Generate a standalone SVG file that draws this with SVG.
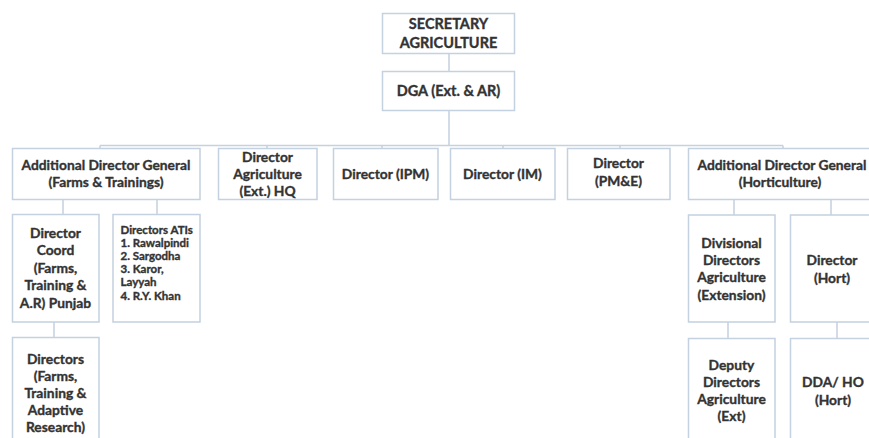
<svg xmlns="http://www.w3.org/2000/svg" width="869" height="438" viewBox="0 0 869 438">
  <style>
    .box { fill: #ffffff; stroke: #c3d1e0; stroke-width: 1.5; }
    .link { fill: none; stroke: #c3d1e0; stroke-width: 1.5; }
    text { font-family: Lato, "Open Sans", "Liberation Sans", sans-serif; font-weight: 700; font-size: 13.8px; fill: #333333; stroke: #333333; stroke-width: 0.35px; text-anchor: middle; }
    .big { font-size: 14.5px; }
    .list { font-size: 11.5px; text-anchor: start; }
  </style>
  <rect width="869" height="438" fill="#ffffff"/>

  <!-- connectors -->
  <g id="connectors">
    <path class="link" d="M449 53.5 V71.5 M449 110.5 V145.5"/>
    <path class="link" d="M100 145.5 H783 M100 145.5 V148.5 M267 145.5 V148.5 M382 145.5 V148.5 M503 145.5 V148.5 M620 145.5 V148.5 M783 145.5 V148.5"/>
    <path class="link" d="M63 199.5 V214.5 M157 199.5 V214.5 M54 322 V337.5"/>
    <path class="link" d="M734 199.5 V215 M831 199.5 V215 M728 322 V338.5 M837 322 V338.5"/>
  </g>

  <!-- top level -->
  <g id="secretary">
    <rect class="box" x="382.5" y="13.5" width="132" height="40"/>
    <text class="big" x="448.5" y="28.5">SECRETARY</text>
    <text class="big" x="448.5" y="48">AGRICULTURE</text>
  </g>
  <g id="dga">
    <rect class="box" x="382.5" y="71.5" width="132" height="39"/>
    <text class="big" x="448.5" y="95.5">DGA (Ext. &amp; AR)</text>
  </g>

  <!-- second level -->
  <g id="adg-farms">
    <rect class="box" x="12.5" y="148.5" width="187.5" height="51"/>
    <text x="106" y="169.5">Additional Director General</text>
    <text x="106" y="187">(Farms &amp; Trainings)</text>
  </g>
  <g id="dir-agri-hq">
    <rect class="box" x="218.5" y="148.5" width="98.5" height="51"/>
    <text x="267.5" y="161.5">Director</text>
    <text x="267.5" y="178.5">Agriculture</text>
    <text x="267.5" y="195.5">(Ext.) HQ</text>
  </g>
  <g id="dir-ipm">
    <rect class="box" x="333.5" y="148.5" width="104.5" height="51"/>
    <text x="385.5" y="178.5">Director (IPM)</text>
  </g>
  <g id="dir-im">
    <rect class="box" x="450.5" y="148.5" width="104.5" height="51"/>
    <text x="502.5" y="178.5">Director (IM)</text>
  </g>
  <g id="dir-pme">
    <rect class="box" x="567.5" y="148.5" width="102.5" height="51"/>
    <text x="618.5" y="168">Director</text>
    <text x="618.5" y="185.5">(PM&amp;E)</text>
  </g>
  <g id="adg-hort">
    <rect class="box" x="688.5" y="148.5" width="190" height="51"/>
    <text x="782" y="169.5">Additional Director General</text>
    <text x="780" y="187">(Horticulture)</text>
  </g>

  <!-- farms & trainings branch -->
  <g id="dir-coord">
    <rect class="box" x="12.5" y="214.5" width="86.5" height="107.5"/>
    <text x="55.5" y="237.5">Director</text>
    <text x="55.5" y="255">Coord</text>
    <text x="55.5" y="272.5">(Farms,</text>
    <text x="55.5" y="290">Training &amp;</text>
    <text x="55.5" y="307.5">A.R) Punjab</text>
  </g>
  <g id="dir-atis">
    <rect class="box" x="113" y="214.5" width="87" height="107.5"/>
    <text class="list" x="120.5" y="233.5">Directors ATIs</text>
    <text class="list" x="120.5" y="247">1. Rawalpindi</text>
    <text class="list" x="120.5" y="260">2. Sargodha</text>
    <text class="list" x="120.5" y="273">3. Karor,</text>
    <text class="list" x="120.5" y="286">Layyah</text>
    <text class="list" x="120.5" y="300">4. R.Y. Khan</text>
  </g>
  <g id="directors-farms">
    <rect class="box" x="12.5" y="337.5" width="86.5" height="120"/>
    <text x="55.5" y="363.5">Directors</text>
    <text x="55.5" y="381">(Farms,</text>
    <text x="55.5" y="398">Training &amp;</text>
    <text x="55.5" y="415">Adaptive</text>
    <text x="55.5" y="432">Research)</text>
  </g>

  <!-- horticulture branch -->
  <g id="div-directors">
    <rect class="box" x="688.5" y="215" width="86.5" height="107"/>
    <text x="731.5" y="247.5">Divisional</text>
    <text x="731.5" y="265">Directors</text>
    <text x="731.5" y="282">Agriculture</text>
    <text x="731.5" y="299.5">(Extension)</text>
  </g>
  <g id="dir-hort">
    <rect class="box" x="790.5" y="215" width="86" height="107"/>
    <text x="832" y="265">Director</text>
    <text x="832" y="282.5">(Hort)</text>
  </g>
  <g id="deputy-directors">
    <rect class="box" x="688.5" y="338.5" width="86.5" height="120"/>
    <text x="731.5" y="370">Deputy</text>
    <text x="731.5" y="387">Directors</text>
    <text x="731.5" y="404">Agriculture</text>
    <text x="731.5" y="421">(Ext)</text>
  </g>
  <g id="dda-ho">
    <rect class="box" x="790.5" y="338.5" width="86" height="120"/>
    <text x="833" y="387">DDA/ HO</text>
    <text x="833" y="405">(Hort)</text>
  </g>
</svg>
